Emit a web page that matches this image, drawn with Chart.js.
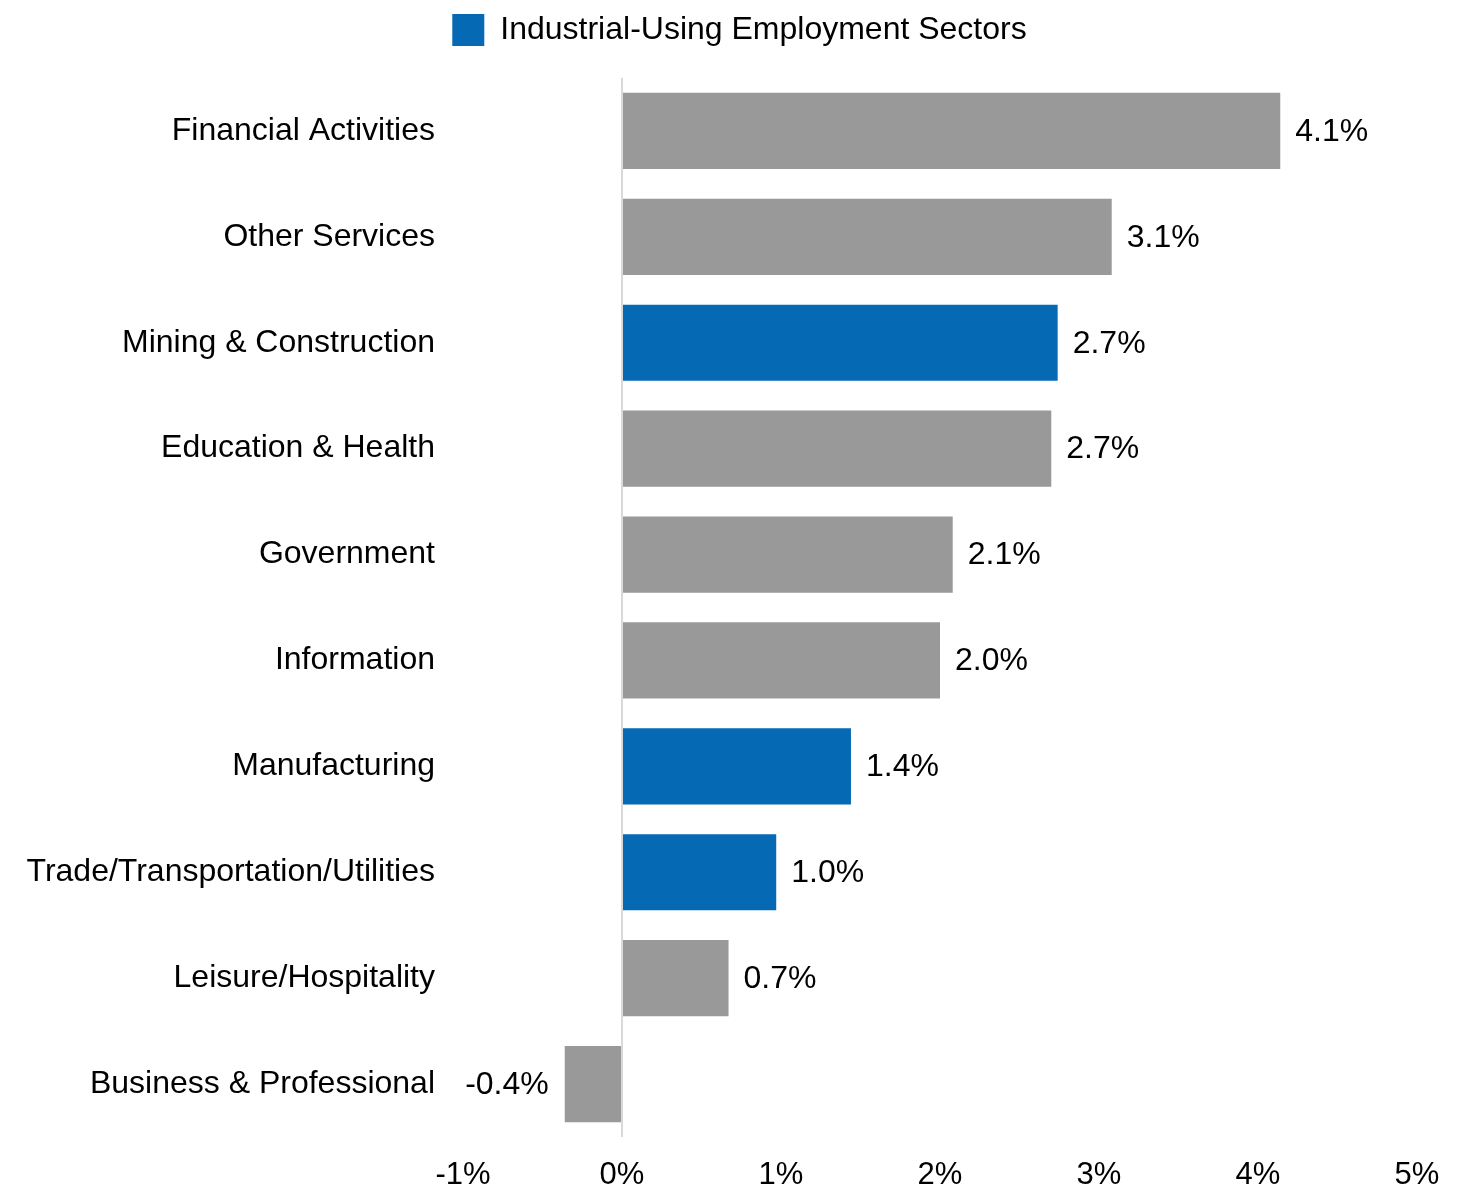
<!DOCTYPE html>
<html>
<head>
  <title>Employment Growth by Sector</title>
  <script src="https://cdn.jsdelivr.net/npm/chart.js"></script>
  <style>
    html, body { margin: 0; padding: 0; background: #ffffff; }
    #wrap { width: 1473px; height: 1192px; }
  </style>
</head>
<body>
  <div id="wrap"><canvas id="myChart"></canvas></div>

  <script type="text/javascript">
    // sectors, top to bottom
    var sectors = [
      'Financial Activities',
      'Other Services',
      'Mining & Construction',
      'Education & Health',
      'Government',
      'Information',
      'Manufacturing',
      'Trade/Transportation/Utilities',
      'Leisure/Hospitality',
      'Business & Professional'
    ];
    // job growth, %
    var growth = [4.14, 3.08, 2.74, 2.70, 2.08, 2.00, 1.44, 0.97, 0.67, -0.36];
    // industrial-using sectors get the blue bars
    var industrialUsing = [false, false, true, false, false, false, true, true, false, false];
    var legendLabel = 'Industrial-Using Employment Sectors';
    var xTicks = [-1, 0, 1, 2, 3, 4, 5];

    var BLUE = '#0569b3';
    var GRAY = '#999999';
    var FONT = "'Liberation Sans', Arial, sans-serif";
    var NARROW = "'Liberation Sans Narrow', 'Arial Narrow', 'Liberation Sans', sans-serif";
    var RIGHT_PAD = 56;

    // value labels at the end of each bar
    const barLabels = {
      id: 'barLabels',
      afterDatasetsDraw(chart) {
        const ctx = chart.ctx;
        const meta = chart.getDatasetMeta(0);
        ctx.save();
        ctx.font = '32px ' + FONT;
        ctx.fillStyle = '#000000';
        ctx.textBaseline = 'middle';
        meta.data.forEach(function(bar, i) {
          const v = growth[i];
          const txt = v.toFixed(1) + '%';
          if (v >= 0) {
            ctx.textAlign = 'left';
            ctx.fillText(txt, bar.x + 15, bar.y + 1);
          } else {
            ctx.textAlign = 'right';
            ctx.fillText(txt, bar.x - 16, bar.y + 1);
          }
        });
        ctx.restore();
      }
    };

    // extra room under the legend, and center it on the full canvas
    const legendGap = {
      id: 'legendGap',
      beforeInit(chart) {
        const origFit = chart.legend.fit;
        chart.legend.fit = function() {
          origFit.call(this);
          this.height += 22;
        };
      },
      afterLayout(chart) {
        chart.legend.right += RIGHT_PAD + 6;
        chart.legend.width += RIGHT_PAD + 6;
      }
    };

    const ctx = document.getElementById('myChart').getContext('2d');
    new Chart(ctx, {
      type: 'bar',
      data: {
        labels: sectors,
        datasets: [{
          label: legendLabel,
          data: growth,
          backgroundColor: industrialUsing.map(function(b) { return b ? BLUE : GRAY; }),
          borderWidth: 0,
          barPercentage: 0.72,
          categoryPercentage: 1.0
        }]
      },
      options: {
        indexAxis: 'y',
        responsive: true,
        maintainAspectRatio: false,
        animation: false,
        layout: { padding: { left: 0, right: RIGHT_PAD, top: 0, bottom: 0 } },
        plugins: {
          tooltip: { enabled: false },
          legend: {
            display: true,
            position: 'top',
            labels: {
              boxWidth: 32,
              boxHeight: 32,
              padding: 14,
              color: '#231f20',
              font: { family: FONT, size: 32 },
              generateLabels: function() {
                return [{
                  text: legendLabel,
                  fillStyle: BLUE,
                  strokeStyle: BLUE,
                  lineWidth: 0,
                  hidden: false,
                  datasetIndex: 0
                }];
              }
            },
            onClick: function() {}
          }
        },
        scales: {
          x: {
            type: 'linear',
            min: -1,
            max: 5,
            afterBuildTicks: function(scale) {
              scale.ticks = xTicks.map(function(v) { return { value: v }; });
            },
            afterFit: function(scale) { scale.height = 55; },
            grid: {
              drawTicks: false,
              lineWidth: 2,
              color: function(c) { return c.tick && c.tick.value === 0 ? '#d9d9d9' : 'rgba(0,0,0,0)'; }
            },
            border: { display: false },
            ticks: {
              padding: 20,
              color: '#000000',
              font: { family: NARROW, size: 31 },
              callback: function(v) { return v + '%'; }
            }
          },
          y: {
            afterFit: function(scale) { scale.width = 463; },
            grid: { display: false, drawTicks: false },
            border: { display: false },
            ticks: {
              padding: 28,
              color: '#000000',
              font: { family: FONT, size: 32 }
            }
          }
        }
      },
      plugins: [barLabels, legendGap]
    });
  </script>
</body>
</html>
